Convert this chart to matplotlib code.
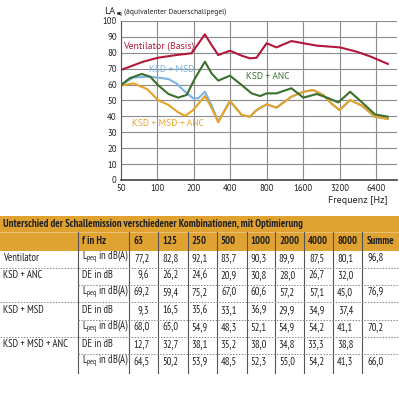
import numpy as np
import matplotlib
matplotlib.use('Agg')
from matplotlib import pyplot as plt
from matplotlib.patches import Rectangle

# Kurven (Frequenz in Hz, Pegel in dB(A))
f_vent = [50, 76, 101, 143, 191, 246, 279, 317, 396, 495, 578, 656, 794, 958, 1273, 1595, 2063, 3199, 4395, 5740, 7940]
l_vent = [69.2, 74.4, 76.9, 78.6, 79.7, 91.6, 84.9, 78.6, 81.3, 78.2, 76.5, 76.9, 86.0, 83.4, 87.4, 86.0, 84.5, 83.4, 80.7, 77.6, 73.0]

f_anc = [50, 59, 74, 87, 101, 123, 148, 174, 204, 246, 279, 317, 396, 495, 597, 702, 794, 958, 1273, 1595, 2063, 2582, 3097, 3879, 4866, 6212, 7940]
l_anc = [59.7, 64.0, 66.7, 65.0, 59.7, 54.1, 51.8, 53.5, 64.0, 74.4, 67.1, 62.5, 65.6, 59.7, 54.5, 52.8, 54.5, 54.5, 57.7, 51.8, 54.1, 51.4, 48.8, 55.5, 48.8, 41.3, 39.8]

f_msd = [50, 63, 82, 101, 123, 143, 169, 197, 217, 246, 279, 317, 396, 495, 578, 656, 794, 958, 1273, 1595, 1924, 2327, 2710, 3170, 3879, 4866, 6212, 7940]
l_msd = [59.7, 64.4, 65.0, 64.4, 63.5, 60.8, 55.5, 51.4, 51.4, 55.5, 47.2, 36.7, 49.7, 40.9, 39.8, 44.0, 47.6, 45.5, 52.4, 55.5, 56.6, 53.5, 48.2, 44.0, 50.3, 46.7, 39.8, 38.4]

f_all = [50, 63, 82, 101, 123, 148, 169, 197, 246, 279, 317, 396, 495, 578, 656, 794, 958, 1273, 1595, 1924, 2327, 2710, 3170, 3879, 4866, 6212, 7940]
l_all = [59.3, 60.8, 57.2, 50.3, 47.2, 42.6, 40.3, 44.0, 52.8, 45.5, 36.3, 49.7, 40.9, 39.8, 44.0, 47.6, 45.5, 52.4, 55.5, 56.6, 53.5, 48.2, 44.0, 50.3, 46.7, 39.8, 38.4]

x_ticks = [50, 100, 200, 400, 800, 1600, 3200, 6400]

# Tabelle
tab_title = 'Unterschied der Schallemission verschiedener Kombinationen, mit Optimierung'
tab_head = ['f in Hz', '63', '125', '250', '500', '1000', '2000', '4000', '8000', 'Summe']
row_names = ['Ventilator', 'KSD + ANC', '', 'KSD + MSD', '', 'KSD + MSD + ANC', '']
L = r'L$_{\mathregular{peq}}$ in dB(A)'
row_kind = [L, 'DE in dB', L, 'DE in dB', L, 'DE in dB', L]
row_vals = [
    ['77,2', '82,8', '92,1', '83,7', '90,3', '89,9', '87,5', '80,1', '96,8'],
    ['9,6', '26,2', '24,6', '20,9', '30,8', '28,0', '26,7', '32,0', ''],
    ['69,2', '59,4', '75,2', '67,0', '60,6', '57,2', '57,1', '45,0', '76,9'],
    ['9,3', '16,5', '35,6', '33,1', '36,9', '29,9', '34,9', '37,4', ''],
    ['68,0', '65,0', '54,9', '48,3', '52,1', '54,9', '54,2', '41,1', '70,2'],
    ['12,7', '32,7', '38,1', '35,2', '38,0', '34,8', '33,3', '38,8', ''],
    ['64,5', '50,2', '53,9', '48,5', '52,3', '55,0', '54,2', '41,3', '66,0'],
]

RED = '#b3173a'
GREEN = '#3b6f2e'
BLUE = '#7ab4e6'
ORANGE = '#e6a225'
TXT = '#222222'

plt.rcParams['font.family'] = ['PT Sans', 'DejaVu Sans']
plt.rcParams['mathtext.fontset'] = 'custom'
plt.rcParams['mathtext.rm'] = 'PT Sans Narrow'
fig = plt.figure(figsize=(3.99, 4.0), dpi=100)

# --- Diagramm ---
ax = fig.add_axes([121 / 399, 1 - 180 / 400, 276 / 399, 159 / 400])
ax.plot(f_msd, l_msd, color=BLUE, lw=1.5)
ax.plot(f_all, l_all, color=ORANGE, lw=1.5)
ax.plot(f_anc, l_anc, color=GREEN, lw=1.5)
ax.plot(f_vent, l_vent, color=RED, lw=1.5)
ax.set_xscale('log', base=2)
ax.set_xlim(50, 9450)
ax.set_ylim(0, 100)
ax.set_xticks(x_ticks)
ax.set_xticklabels([str(t) for t in x_ticks])
ax.minorticks_off()
ax.set_yticks(range(0, 101, 10))
ax.tick_params(labelsize=6.3, length=0, pad=3, colors=TXT)
ax.grid(True, color='#8c8c8c', lw=0.8)
ax.set_axisbelow(True)
for s in ['top', 'right']:
    ax.spines[s].set_visible(False)
ax.spines['left'].set_color('#555555')
ax.spines['bottom'].set_color('#444444')
ax.spines['bottom'].set_linewidth(1.2)

ax.text(0.007, 0.843, 'Ventilator (Basis)', transform=ax.transAxes, color=RED, fontsize=7.0, va='center')
ax.text(0.101, 0.698, 'KSD + MSD', transform=ax.transAxes, color=BLUE, fontsize=6.8, va='center')
ax.text(0.453, 0.648, 'KSD + ANC', transform=ax.transAxes, color=GREEN, fontsize=6.8, va='center')
ax.text(0.04, 0.358, 'KSD + MSD + ANC', transform=ax.transAxes, color=ORANGE, fontsize=6.8, va='center')
fig.text(104 / 399, 1 - 11 / 400, 'LA', fontsize=7.3, va='center', color=TXT)
fig.text(117 / 399, 1 - 14 / 400, 'eq', fontsize=4, va='center', color=TXT, fontweight='bold')
fig.text(124 / 399, 1 - 12 / 400, '(äquivalenter Dauerschallpegel)', fontsize=5.4, va='center', color=TXT)
fig.text(387 / 399, 1 - 201 / 400, 'Frequenz [Hz]', fontsize=7.2, ha='right', va='center', color=TXT)

# --- Tabelle ---
tb = fig.add_axes([0, 0, 1, 1])
tb.set_xlim(0, 399)
tb.set_ylim(400, 0)
tb.axis('off')
narrow = ['PT Sans Narrow', 'DejaVu Sans']
tb.add_patch(Rectangle((0, 216), 399, 34.5, color='#e0a231', lw=0))
tb.plot([0, 399], [231.5, 231.5], color='#edc785', lw=0.6)
tb.text(3, 224, tab_title, fontsize=7.7, fontweight='bold', family=narrow, va='center', color=TXT)

col_x = [0, 77.7, 129.3, 158.3, 187.7, 216.7, 246.7, 275, 304.3, 333.3, 362.3, 399]
row_h = 17.3
top = 250.5
bottom = top + row_h * len(row_kind) + 1
for x in col_x[1:-1]:
    tb.plot([x, x], [232, bottom], color='#555555', lw=0.8)

for j, h in enumerate(tab_head):
    tb.text(col_x[j + 1] + 4, 241.5, h, fontsize=7.6, fontweight='bold', family=narrow, va='center', color=TXT)

for i in range(len(row_kind)):
    yc = top + row_h * (i + 0.42)
    tb.text(3, yc, row_names[i], fontsize=7.6, family=narrow, va='center', color=TXT)
    tb.text(col_x[1] + 4, yc, row_kind[i], fontsize=7.6, family=narrow, va='center', color=TXT)
    for j, v in enumerate(row_vals[i]):
        if j < 8:
            tb.text(col_x[j + 2] + 20, yc, v, fontsize=7.6, family=narrow, va='center', ha='right', color=TXT)
        else:
            tb.text(col_x[j + 2] + 5, yc, v, fontsize=7.6, family=narrow, va='center', color=TXT)
    if i < len(row_kind) - 1:
        yl = top + row_h * (i + 1)
        x0 = 0 if row_names[i + 1] != '' else col_x[1]
        tb.plot([x0, 399], [yl, yl], color='#888888', lw=0.7, ls=(0, (1.5, 1.5)))

fig.savefig('out.png', dpi=100)
